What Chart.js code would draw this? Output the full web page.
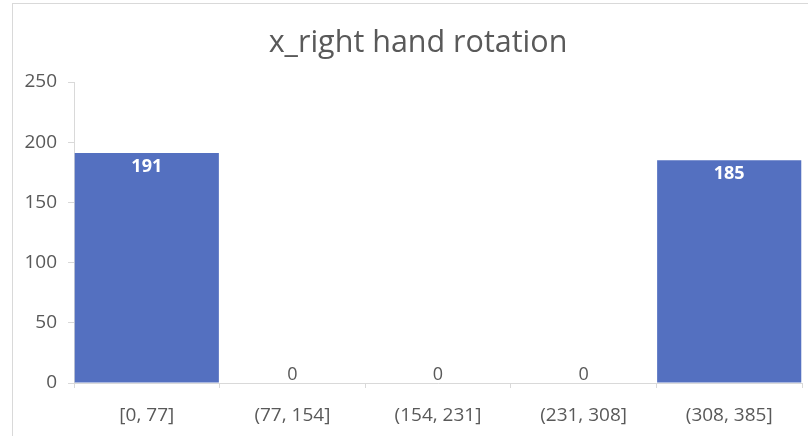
<!DOCTYPE html>
<html>
<head>
<meta charset="utf-8">
<script src="https://cdn.jsdelivr.net/npm/chart.js@4/dist/chart.umd.min.js"></script>
<style>
  html, body { margin: 0; padding: 0; background: #ffffff; }
  #wrap { position: relative; width: 808px; height: 436px; overflow: hidden; }
  #frame { position: absolute; left: 12px; top: 3px; width: 900px; height: 500px;
           border-left: 1px solid #d9d9d9; border-top: 1px solid #d9d9d9; }
  canvas { position: absolute; left: 0; top: 0; }
</style>
</head>
<body>
<div id="wrap">
  <div id="frame"></div>
  <canvas id="chart" width="808" height="436"></canvas>
</div>
<script>
const chartTitle = 'x_right hand rotation';
const categories = ['[0, 77]', '(77, 154]', '(154, 231]', '(231, 308]', '(308, 385]'];
const counts = [191, 0, 0, 0, 185];
const yTicks = [0, 50, 100, 150, 200, 250];

const FONT = '"Open Sans", "Liberation Sans", sans-serif';
const TEXT_GRAY = '#595959';
const AXIS_GRAY = '#d9d9d9';
const BAR_BLUE = '#5470c0';

// Title drawn centred over the chart frame, above the plot area
const frameTitle = {
  id: 'frameTitle',
  afterDraw(chart) {
    const ctx = chart.ctx;
    ctx.save();
    ctx.fillStyle = TEXT_GRAY;
    ctx.font = '30.5px ' + FONT;
    ctx.textAlign = 'center';
    ctx.textBaseline = 'alphabetic';
    ctx.fillText(chartTitle, 418, 52);
    ctx.restore();
  }
};

// Value labels: inside the top of non-zero bars, just above the axis for zeros
const valueLabels = {
  id: 'valueLabels',
  afterDatasetsDraw(chart) {
    const ctx = chart.ctx;
    const meta = chart.getDatasetMeta(0);
    const data = chart.data.datasets[0].data;
    ctx.save();
    ctx.textAlign = 'center';
    ctx.textBaseline = 'middle';
    meta.data.forEach((bar, i) => {
      const v = data[i];
      if (v > 0) {
        ctx.fillStyle = '#ffffff';
        ctx.font = 'bold 18px ' + FONT;
        ctx.fillText(String(v), bar.x, bar.y + 13.5);
      } else {
        ctx.fillStyle = TEXT_GRAY;
        ctx.font = '18px ' + FONT;
        ctx.fillText(String(v), bar.x, bar.y - 8.5);
      }
    });
    ctx.restore();
  }
};

new Chart(document.getElementById('chart'), {
  type: 'bar',
  data: {
    labels: categories,
    datasets: [{
      data: counts,
      backgroundColor: BAR_BLUE,
      borderWidth: 0,
      barPercentage: 0.99,
      categoryPercentage: 1.0
    }]
  },
  options: {
    responsive: false,
    animation: false,
    layout: { padding: { left: 0, right: 6, top: 82, bottom: 0 } },
    plugins: {
      legend: { display: false },
      tooltip: { enabled: false },
      title: { display: false }
    },
    scales: {
      x: {
        grid: { display: true, drawOnChartArea: false, offset: true, tickLength: 5, color: AXIS_GRAY },
        border: { color: AXIS_GRAY },
        ticks: { color: TEXT_GRAY, font: { family: FONT, size: 19 }, padding: 16, maxRotation: 0 },
        afterFit(scale) { scale.height = 53; }
      },
      y: {
        min: 0,
        max: 250,
        afterBuildTicks(scale) { scale.ticks = yTicks.map(v => ({ value: v })); },
        grid: { display: true, drawOnChartArea: false, tickLength: 6, color: AXIS_GRAY },
        border: { color: AXIS_GRAY },
        ticks: { color: TEXT_GRAY, font: { family: FONT, size: 19 }, padding: 11 },
        afterFit(scale) { scale.width = 74; }
      }
    }
  },
  plugins: [valueLabels, frameTitle]
});
</script>
</body>
</html>
